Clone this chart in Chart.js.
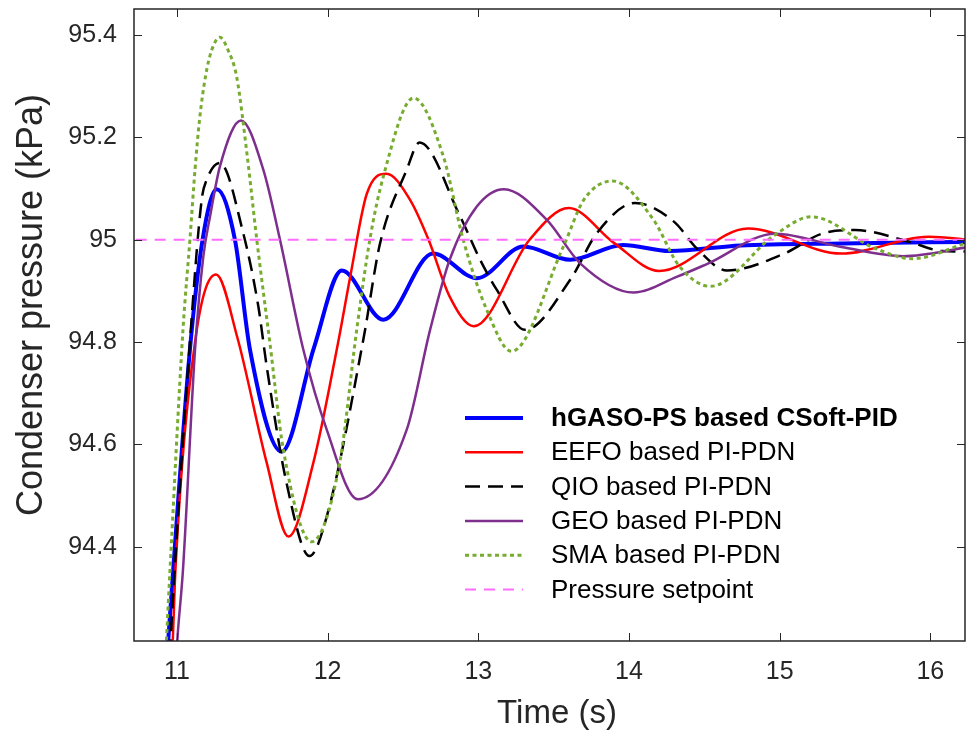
<!DOCTYPE html>
<html><head><meta charset="utf-8">
<script src="https://cdn.jsdelivr.net/npm/chart.js@4.4.1/dist/chart.umd.min.js"></script>
<style>html,body{margin:0;padding:0;background:#fff;}#wrap{width:968px;height:736px;}</style>
</head><body><div id="wrap"><canvas id="c" width="968" height="736"></canvas></div>
<script>
// ---- data ----
const xTicks = [11, 12, 13, 14, 15, 16];
const yTicks = [94.4, 94.6, 94.8, 95, 95.2, 95.4];
const yTickLabels = ['94.4', '94.6', '94.8', '95', '95.2', '95.4'];
const xRange = [10.715, 16.23];
const yRange = [94.216, 95.451];
const xTitle = 'Time (s)';
const yTitle = 'Condenser pressure (kPa)';

const seriesNames = ['hGASO-PS based CSoft-PID', 'EEFO based PI-PDN', 'QIO based PI-PDN', 'GEO based PI-PDN', 'SMA based PI-PDN', 'Pressure setpoint'];

const hgasoT = [10.92, 10.942, 10.975, 11.086, 11.17, 11.264, 11.385, 11.485, 11.695, 11.91, 12.094, 12.37, 12.70, 12.99, 13.30, 13.61, 13.96, 14.27, 14.74, 15.41, 16.26];
const hgasoY = [94.12, 94.216, 94.355, 94.785, 95.0, 95.099, 95.0, 94.785, 94.586, 94.79, 94.940, 94.844, 94.973, 94.925, 94.987, 94.961, 94.990, 94.978, 94.989, 94.993, 94.996];

const eefoT = [10.95, 10.972, 10.99, 11.12, 11.26, 11.40, 11.596, 11.74, 11.905, 12.07, 12.15, 12.26, 12.39, 12.547, 12.67, 12.81, 12.97, 13.34, 13.60, 13.90, 14.20, 14.79, 15.41, 15.99, 16.26];
const eefoY = [94.10, 94.216, 94.355, 94.80, 94.932, 94.81, 94.564, 94.420, 94.564, 94.80, 94.928, 95.09, 95.129, 95.078, 95.0, 94.889, 94.831, 95.0, 95.062, 94.994, 94.939, 95.022, 94.973, 95.006, 95.0];

const qioT = [10.94, 10.958, 10.985, 11.086, 11.164, 11.197, 11.285, 11.44, 11.54, 11.596, 11.728, 11.88, 11.994, 12.237, 12.348, 12.525, 12.61, 12.879, 13.012, 13.123, 13.31, 13.61, 13.787, 14.04, 14.30, 14.45, 14.65, 15.03, 15.28, 15.50, 15.86, 16.08, 16.26];
const qioY = [94.10, 94.216, 94.355, 94.80, 95.078, 95.117, 95.15, 95.013, 94.870, 94.752, 94.524, 94.382, 94.459, 94.805, 94.993, 95.137, 95.19, 95.046, 94.961, 94.902, 94.824, 94.922, 95.013, 95.072, 95.035, 94.983, 94.940, 94.973, 95.012, 95.019, 94.996, 94.978, 94.977];

const geoT = [10.98, 11.002, 11.04, 11.12, 11.175, 11.22, 11.285, 11.425, 11.573, 11.684, 11.839, 11.994, 12.20, 12.525, 12.68, 12.81, 12.99, 13.17, 13.455, 13.676, 14.03, 14.32, 14.52, 14.97, 15.41, 15.82, 16.26];
const geoY = [94.10, 94.216, 94.355, 94.785, 94.967, 95.046, 95.143, 95.233, 95.137, 95.0, 94.785, 94.629, 94.493, 94.629, 94.824, 94.961, 95.065, 95.099, 95.039, 94.954, 94.897, 94.928, 94.953, 95.012, 94.986, 94.968, 94.986];

const smaT = [10.91, 10.93, 10.954, 11.04, 11.086, 11.12, 11.15, 11.19, 11.23, 11.285, 11.34, 11.396, 11.468, 11.53, 11.617, 11.706, 11.894, 12.08, 12.193, 12.28, 12.37, 12.57, 12.768, 12.90, 13.056, 13.22, 13.565, 13.70, 13.89, 14.163, 14.33, 14.54, 14.966, 15.21, 15.635, 15.88, 16.26];
const smaY = [94.10, 94.216, 94.355, 94.824, 95.0, 95.137, 95.235, 95.32, 95.37, 95.396, 95.37, 95.319, 95.16, 95.0, 94.798, 94.59, 94.410, 94.564, 94.824, 95.0, 95.124, 95.277, 95.163, 95.0, 94.863, 94.782, 94.987, 95.078, 95.115, 95.039, 94.950, 94.909, 95.009, 95.045, 94.983, 94.963, 94.996];

const setpointT = [10.6, 16.4];
const setpointY = [95, 95];

// ---- chart ----
const FONT = "'Liberation Sans', Arial, Helvetica, sans-serif";
const AXIS_COLOR = '#262626';
const pts = (t, y) => t.map((v, i) => ({x: v, y: y[i]}));

const styles = [
  {color: '#0000ff', width: 4, dash: []},
  {color: '#ff0000', width: 2.5, dash: []},
  {color: '#000000', width: 2.5, dash: [15, 8]},
  {color: '#7e2f8e', width: 2.5, dash: []},
  {color: '#77ac30', width: 3, dash: [4, 3.5]},
  {color: '#ff6cff', width: 2, dash: [11, 8]}
];
const seriesData = [pts(hgasoT, hgasoY), pts(eefoT, eefoY), pts(qioT, qioY), pts(geoT, geoY), pts(smaT, smaY), pts(setpointT, setpointY)];

const datasets = seriesData.map((d, i) => ({
  label: seriesNames[i],
  data: d,
  borderColor: styles[i].color,
  backgroundColor: styles[i].color,
  borderWidth: styles[i].width,
  borderDash: styles[i].dash,
  pointRadius: 0,
  fill: false,
  cubicInterpolationMode: 'monotone',
  clip: 0,
  order: 6 - i
}));

const boxPlugin = {
  id: 'box',
  afterDraw(chart) {
    const {ctx, chartArea: a, scales} = chart;
    ctx.save();
    ctx.strokeStyle = AXIS_COLOR;
    ctx.lineWidth = 1.5;
    ctx.setLineDash([]);
    ctx.strokeRect(a.left, a.top, a.right - a.left, a.bottom - a.top);
    const L = 8;
    ctx.lineWidth = 1;
    ctx.beginPath();
    xTicks.forEach(v => {
      const px = Math.round(scales.x.getPixelForValue(v)) + 0.5;
      ctx.moveTo(px, a.bottom); ctx.lineTo(px, a.bottom - L);
      ctx.moveTo(px, a.top); ctx.lineTo(px, a.top + L);
    });
    yTicks.forEach(v => {
      const py = Math.round(scales.y.getPixelForValue(v)) + 0.5;
      ctx.moveTo(a.left, py); ctx.lineTo(a.left + L, py);
      ctx.moveTo(a.right, py); ctx.lineTo(a.right - L, py);
    });
    ctx.stroke();
    // axis titles
    ctx.fillStyle = AXIS_COLOR;
    ctx.textAlign = 'center';
    ctx.textBaseline = 'middle';
    ctx.font = '33px ' + FONT;
    ctx.fillText(xTitle, a.left + 423, a.bottom + 73);
    ctx.translate(32, a.top + 296);
    ctx.rotate(-Math.PI / 2);
    ctx.font = '36px ' + FONT;
    ctx.fillText(yTitle, 0, 0);
    ctx.restore();
  }
};

const legendPlugin = {
  id: 'insideLegend',
  afterDatasetsDraw(chart) {
    const {ctx, chartArea: a} = chart;
    const x0 = a.left + 331, x1 = a.left + 389, tx = a.left + 417;
    const y0 = a.top + 409, step = 34.3;
    ctx.save();
    chart.data.datasets.forEach((ds, i) => {
      const y = y0 + i * step;
      ctx.strokeStyle = ds.borderColor;
      ctx.lineWidth = ds.borderWidth;
      ctx.setLineDash(ds.borderDash);
      ctx.lineCap = 'butt';
      ctx.beginPath(); ctx.moveTo(x0, y); ctx.lineTo(x1, y); ctx.stroke();
      ctx.setLineDash([]);
      ctx.fillStyle = '#000';
      ctx.font = (i === 0 ? 'bold ' : '') + '26px ' + FONT;
      ctx.textBaseline = 'middle';
      ctx.textAlign = 'left';
      ctx.fillText(ds.label, tx, y + 1);
    });
    ctx.restore();
  }
};

new Chart(document.getElementById('c'), {
  type: 'line',
  data: {datasets},
  plugins: [legendPlugin, boxPlugin],
  options: {
    responsive: false,
    animation: false,
    devicePixelRatio: 1,
    layout: {padding: {left: 0, right: 3, top: 9, bottom: 0}},
    plugins: {legend: {display: false}, tooltip: {enabled: false}},
    scales: {
      x: {
        type: 'linear', min: xRange[0], max: xRange[1],
        afterBuildTicks: s => { s.ticks = xTicks.map(v => ({value: v})); },
        afterFit: s => { s.height = 95; s.paddingLeft = 0; s.paddingRight = 0; },
        grid: {display: false, drawTicks: false},
        border: {display: false},
        ticks: {font: {family: FONT, size: 25}, color: AXIS_COLOR, padding: 16, maxRotation: 0, autoSkip: false},
        title: {display: false}
      },
      y: {
        type: 'linear', min: yRange[0], max: yRange[1],
        afterBuildTicks: s => { s.ticks = yTicks.map(v => ({value: v})); },
        afterFit: s => { s.width = 134; s.paddingTop = 0; s.paddingBottom = 0; },
        grid: {display: false, drawTicks: false},
        border: {display: false},
        ticks: {font: {family: FONT, size: 25}, color: AXIS_COLOR, padding: 17, autoSkip: false,
          callback: (v) => { const k = yTicks.indexOf(v); return k >= 0 ? yTickLabels[k] : ''; }},
        title: {display: false}
      }
    }
  }
});
</script></body></html>
